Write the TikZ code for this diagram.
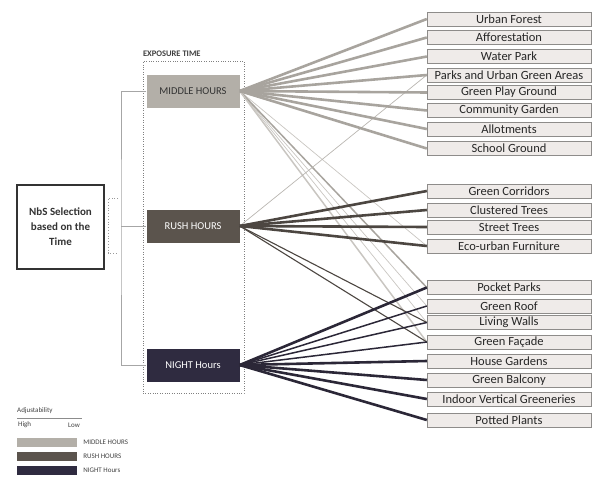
\documentclass[tikz,border=0pt]{standalone}
\usepackage{fontspec}
\setmainfont{Carlito}
\usetikzlibrary{positioning}
\definecolor{midfill}{HTML}{B3AFA8}
\definecolor{midline}{HTML}{A8A49E}
\definecolor{midthin}{HTML}{C9C6C1}
\definecolor{rushfill}{HTML}{5B544D}
\definecolor{rushline}{HTML}{4C4641}
\definecolor{nightfill}{HTML}{2F2B40}
\definecolor{nightline}{HTML}{2B2737}
\definecolor{itemfill}{HTML}{EFEBE9}
\definecolor{itemdraw}{HTML}{8E8C8A}

\begin{document}
\begin{tikzpicture}[x=1pt,y=-1pt,item/.style={draw=itemdraw,fill=itemfill,minimum width=164pt,minimum height=14pt,inner sep=0pt,font=\fontsize{12.5}{13}\selectfont,text=black!85},timebox/.style={minimum width=93pt,minimum height=33pt,inner sep=0pt,font=\fontsize{10.5}{12}\selectfont},swatch/.style={minimum width=60pt,minimum height=9pt,inner sep=0pt},legendtext/.style={anchor=west,inner sep=0pt,font=\fontsize{7}{8}\selectfont,text=black!75},thickline/.style={line width=2.6pt},medline/.style={line width=1.5pt},thinline/.style={line width=0.7pt},tree/.style={draw=black!35,line width=0.8pt}]
\useasboundingbox (0,0) rectangle (593,477);
% exposure time column
\node[draw=black!50,dotted,minimum width=101pt,minimum height=332pt,inner sep=0pt] (expo) at (193.5,227) {};
\node[anchor=south west,inner sep=0pt,font=\fontsize{8.5}{9}\selectfont\bfseries,text=black!75] (expolabel) at ([yshift=4pt]expo.north west) {EXPOSURE TIME};
\node[timebox,fill=midfill,text=black!80] (mid) at (193,91) {MIDDLE HOURS};
\node[timebox,fill=rushfill,text=white] (rush) at (193,226) {RUSH HOURS};
\node[timebox,fill=nightfill,text=white] (night) at (193,365) {NIGHT Hours};
\node[draw=black!80,line width=1.1pt,minimum width=87pt,minimum height=84pt,align=center,font=\fontsize{11}{15}\selectfont\bfseries,text=black!80] (nbs) at (60.5,227) {NbS Selection\\based on the\\Time};
\coordinate (trunk) at (121,226);
\draw[tree] (mid.west) -| (trunk) |- (night.west); \draw[tree] (trunk) -- (rush.west);
\draw[black!40,dotted,line width=0.8pt] (118,198) -| (108,253) -- (118,253);
% solutions
\node[item] (uforest) at (509,19) {Urban Forest}; \node[item] (affor) at (509,37.5) {Afforestation}; \node[item] (wpark) at (509,56.5) {Water Park};
\node[item] (parks) at (509,75) {Parks and Urban Green Areas}; \node[item] (playgr) at (509,92.5) {Green Play Ground}; \node[item] (commgd) at (509,110.5) {Community Garden};
\node[item] (allot) at (509,129) {Allotments}; \node[item] (school) at (509,148.5) {School Ground};
\node[item] (corrid) at (509,191) {Green Corridors}; \node[item] (clust) at (509,210) {Clustered Trees}; \node[item] (street) at (509,227) {Street Trees}; \node[item] (furnit) at (509,246) {Eco-urban Furniture};
\node[item] (pocket) at (509,287.5) {Pocket Parks}; \node[item] (roof) at (509,306) {Green Roof}; \node[item] (walls) at (509,322.5) {Living Walls}; \node[item] (facade) at (509,342) {Green Façade};
\node[item] (house) at (509,361) {House Gardens}; \node[item] (balcony) at (509,380) {Green Balcony}; \node[item] (indoor) at (509,399) {Indoor Vertical Greeneries}; \node[item] (potted) at (509,420) {Potted Plants};
% links
\draw[midthin,thinline] (mid.east) -- (furnit.west); \draw[midthin,thinline] (mid.east) -- (roof.west); \draw[midthin,thinline] (mid.east) -- (walls.west);
\draw[midline,medline] (mid.east) -- (pocket.west); \draw[midthin,medline] (mid.east) -- (facade.west); \draw[midline!80,thinline] (rush.east) -- (parks.west);
\draw[rushline,line width=1.1pt] (rush.east) -- (walls.west); \draw[rushline,line width=1.1pt] (rush.east) -- (facade.west);
\draw[nightline,medline] (night.east) -- (roof.west); \draw[nightline,medline] (night.east) -- (walls.west); \draw[nightline,medline] (night.east) -- (facade.west);
\draw[midline,thickline] (mid.east) -- (uforest.west); \draw[midline,thickline] (mid.east) -- (affor.west); \draw[midline,thickline] (mid.east) -- (wpark.west); \draw[midline,thickline] (mid.east) -- (parks.west);
\draw[midline,thickline] (mid.east) -- (playgr.west); \draw[midline,thickline] (mid.east) -- (commgd.west); \draw[midline,thickline] (mid.east) -- (allot.west); \draw[midline,thickline] (mid.east) -- (school.west);
\draw[rushline,thickline] (rush.east) -- (corrid.west); \draw[rushline,thickline] (rush.east) -- (clust.west); \draw[rushline,thickline] (rush.east) -- (street.west); \draw[rushline,thickline] (rush.east) -- (furnit.west);
\draw[nightline,thickline] (night.east) -- (pocket.west); \draw[nightline,thickline] (night.east) -- (house.west); \draw[nightline,thickline] (night.east) -- (balcony.west);
\draw[nightline,thickline] (night.east) -- (indoor.west); \draw[nightline,thickline] (night.east) -- (potted.west);
% legend
\node[legendtext] (adjust) at (17,411) {Adjustability}; \draw[black!45,line width=0.5pt] (17,418) -- (82,418);
\node[legendtext] (high) at (18,425) {High}; \node[legendtext] (low) at (68,425) {Low};
\node[swatch,fill=midfill] (midkey) at (47,442.5) {}; \node[swatch,fill=rushfill] (rushkey) at (47,456.5) {}; \node[swatch,fill=nightfill] (nightkey) at (47,470) {};
\node[legendtext] at ([xshift=6pt]midkey.east) {MIDDLE HOURS}; \node[legendtext] at ([xshift=6pt]rushkey.east) {RUSH HOURS}; \node[legendtext] at ([xshift=6pt]nightkey.east) {NIGHT Hours};
\end{tikzpicture}
\end{document}
